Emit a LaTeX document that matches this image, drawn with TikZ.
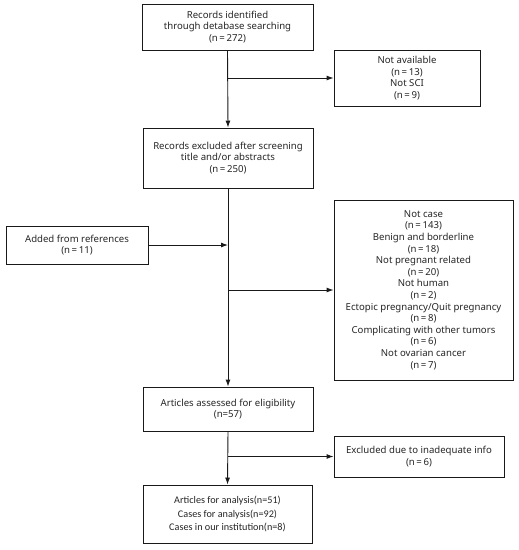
\documentclass[tikz,border=0pt]{standalone}
\usepackage{fontspec}
\setmainfont{Noto Sans}
\newfontfamily\calfont{Carlito}
\usetikzlibrary{arrows.meta}
\begin{document}
\begin{tikzpicture}[x=1pt,y=-1pt,
  box/.style={draw=black!90, line width=0.9pt, inner sep=0pt, align=center,
    text=black!85, font=\fontsize{9.6}{11.6}\selectfont},
  conn/.style={draw=black!90, line width=0.9pt},
  arr/.style={conn, -{Latex[length=7pt,width=5pt]}}]
\useasboundingbox (0,0) rectangle (519,550);
\fill[white] (0,0) rectangle (519,550);
% boxes
\node[box, minimum width=171pt, minimum height=46pt] (b1) at (227.5,27)
  {Records identified\\through detabase searching\\(n\,=\,272)};
\node[box, minimum width=146pt, minimum height=56pt] (b2) at (407,78)
  {Not available\\(n\,=\,13)\\Not SCI\\(n\,=\,9)};
\node[box, minimum width=170pt, minimum height=60pt] (b3) at (228,158)
  {Records excluded after screening\\title and/or abstracts\\(n\,=\,250)};
\node[box, minimum width=142pt, minimum height=38pt] (b4) at (77,245)
  {Added from references\\(n\,=\,11)};
\node[box, minimum width=179pt, minimum height=180pt] (b5) at (423.5,290)
  {Not case\\(n\,=\,143)\\Benign and borderline\\(n\,=\,18)\\Not pregnant related\\(n\,=\,20)\\Not human\\(n\,=\,2)\\Ectopic pregnancy/Quit pregnancy\\(n\,=\,8)\\Complicating with other tumors\\(n\,=\,6)\\Not ovarian cancer\\(n\,=\,7)};
\node[box, minimum width=170pt, minimum height=44pt] (b6) at (228,409)
  {Articles assessed for eligibility\\(n=57)};
\node[box, minimum width=170pt, minimum height=41pt] (b7) at (419,456.5)
  {Excluded due to inadequate info\\(n\,=\,6)};
\node[box, minimum width=169pt, minimum height=58pt, font=\calfont\fontsize{10.2}{13.2}\selectfont] (b8) at (227.5,514)
  {Articles for analysis(n=51)\\Cases for analysis(n=92)\\Cases in our institution(n=8)};
% junction points
\coordinate (j1) at (b1.south |- b2.west);
\coordinate (j2) at (b3.south |- b4.east);
\coordinate (j3) at (b3.south |- b5.west);
\coordinate (j4) at (b6.south |- b7.west);
% connectors
\draw[arr] (b1.south) -- (b3.north);
\draw[arr] (j1) -- (b2.west);
\draw[arr] (b3.south) -- (b6.north);
\draw[arr] (b4.east) -- (j2);
\draw[arr] (j3) -- (b5.west);
\draw[arr] (b6.south) -- (b8.north);
\draw[arr] (j4) -- (b7.west);
\end{tikzpicture}
\end{document}
